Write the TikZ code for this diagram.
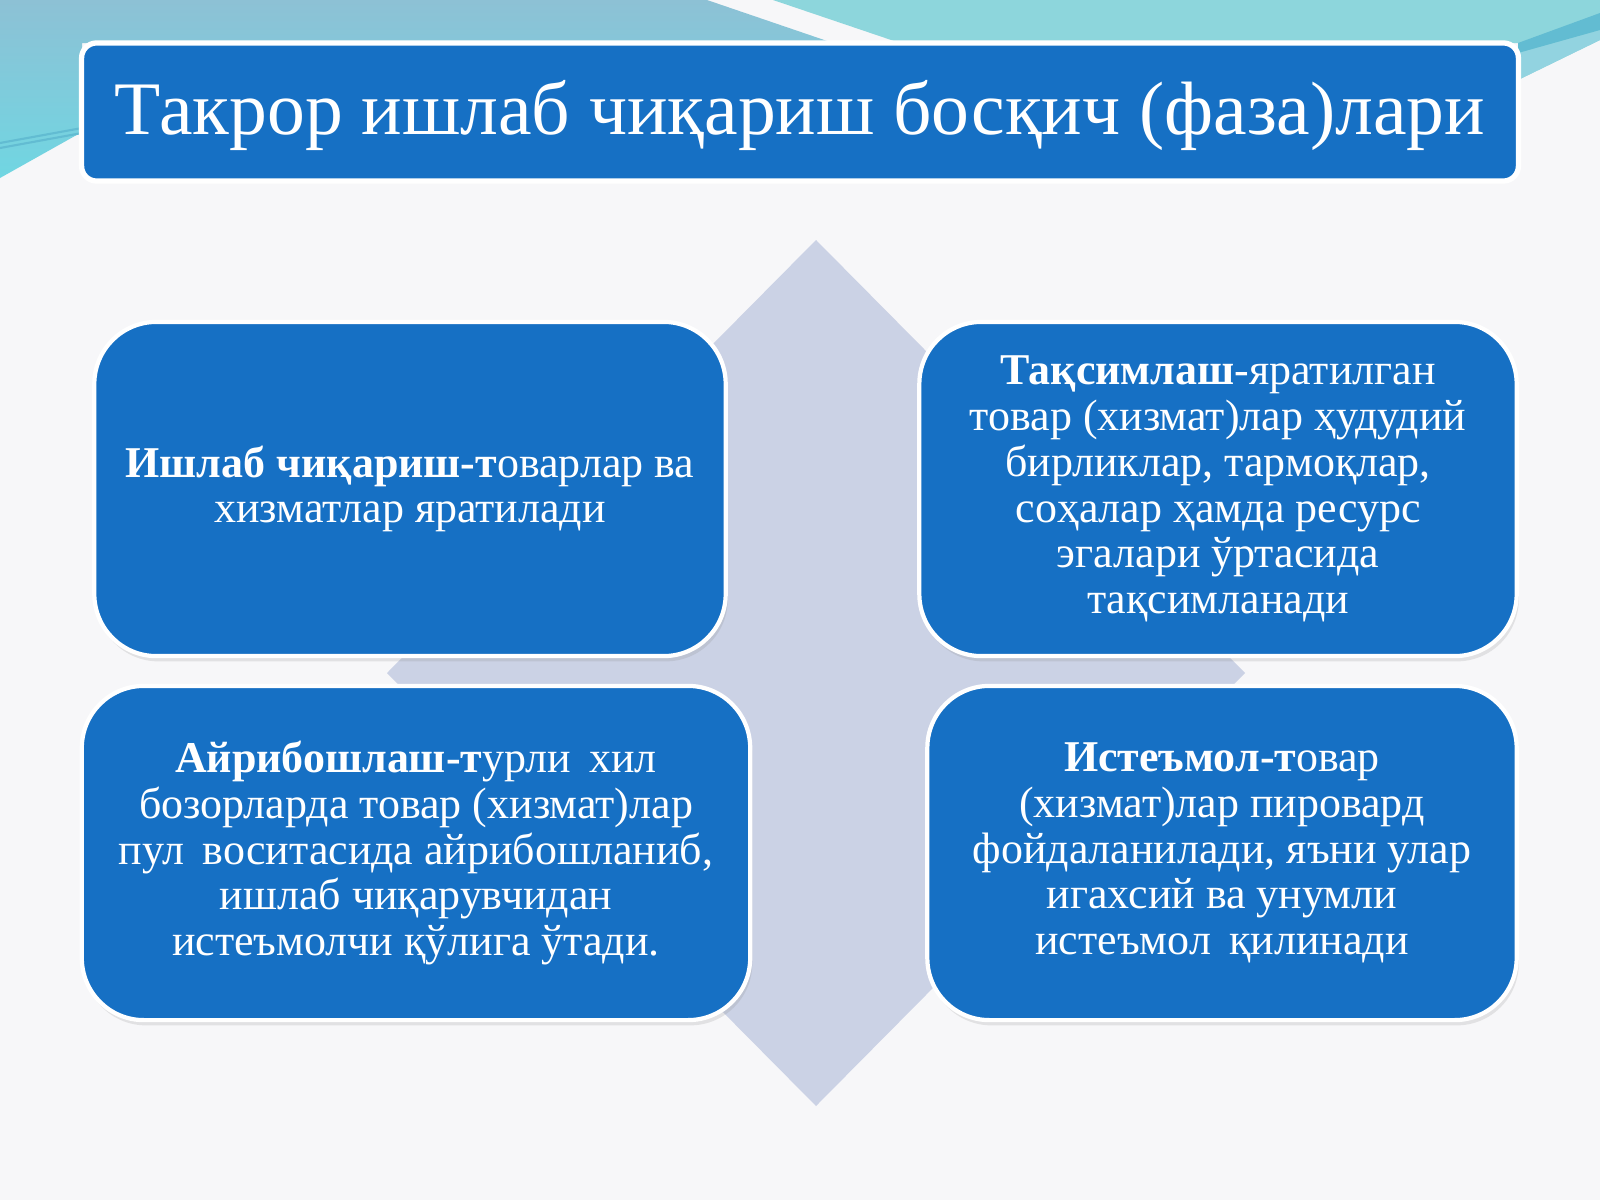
\documentclass[tikz,border=0pt]{standalone}
\usepackage{fontspec}
\setmainfont{Liberation Serif}
\usetikzlibrary{shadows}
\definecolor{boxblue}{RGB}{22,112,196}
\definecolor{diamondgray}{RGB}{203,210,229}
\definecolor{pagebg}{RGB}{247,247,249}
\definecolor{skyblue}{RGB}{141,193,213}
\definecolor{skycyan}{RGB}{112,214,226}
\definecolor{skyteal}{RGB}{141,214,220}
\definecolor{tealband}{RGB}{98,188,210}
\definecolor{teallight}{RGB}{146,211,224}
\tikzset{
  titlebox/.style={draw=white, line width=1.5pt, fill=boxblue, rounded corners=0.15cm,
    minimum width=14.36cm, minimum height=1.38cm, inner sep=0pt, text=white,
    text height=0.6cm, text depth=0.16cm,
    font=\fontsize{21.5}{25}\selectfont},
  phasebox/.style={draw=white, line width=1.2pt, fill=boxblue, rounded corners=0.62cm,
    minimum height=3.34cm, inner sep=0pt, text=white, align=center,
    font=\fontsize{12.5}{13}\selectfont,
    drop shadow={shadow xshift=0.6pt, shadow yshift=-1.5pt, opacity=0.18}}
}
\begin{document}
\begin{tikzpicture}[x=0.01cm,y=-0.01cm]
\useasboundingbox (0,0) rectangle (1600,1200);
\fill[pagebg] (0,0) rectangle (1600,1200);
% sky in the top corners
\shade[top color=skyblue, bottom color=skycyan] (0,0) -- (707,0) -- (833,43) -- (82,43) -- (82,132) -- (0,178) -- cycle;
\fill[skyteal] (773,0) -- (1600,0) -- (1600,40) -- (1518,80) -- (1518,43) -- (900,43) -- cycle;
\fill[teallight] (1518,53) -- (1600,30) -- (1600,40) -- (1518,80) -- cycle;
\fill[tealband] (1518,43) -- (1600,13) -- (1600,30) -- (1518,53) -- cycle;
\draw[tealband, line width=0.6pt] (0,143) -- (82,128);
\draw[tealband, line width=0.6pt] (0,148) -- (82,133);
% diamond behind the boxes
\fill[diamondgray] (816,240) -- (1245,673) -- (816,1106) -- (387,673) -- cycle;
\node[titlebox] (title) at (800,112) {Такрор ишлаб чиқариш босқич (фаза)лари};
\node[phasebox, minimum width=6.31cm] (produce) at (410,489)
  {\textbf{Ишлаб чиқариш-т}оварлар ва\\хизматлар яратилади};
\node[phasebox, minimum width=5.97cm] (distribute) at (1218,489)
  {\textbf{Тақсимлаш}-яратилган\\товар (хизмат)лар ҳудудий\\бирликлар, тармоқлар,\\соҳалар ҳамда ресурс\\эгалари ўртасида\\тақсимланади};
\node[phasebox, minimum width=6.68cm] (exchange) at (416,853)
  {\textbf{Айрибошлаш-т}урли\,\ хил\\бозорларда товар (хизмат)лар\\пул\,\ воситасида айрибошланиб,\\ишлаб чиқарувчидан\\истеъмолчи қўлига ўтади.};
\node[phasebox, minimum width=5.89cm] (consume) at (1222,853)
  {\textbf{Истеъмол-т}овар\\(хизмат)лар пировард\\фойдаланилади, яъни улар\\игахсий ва унумли\\истеъмол\,\ қилинади};
\end{tikzpicture}
\end{document}
